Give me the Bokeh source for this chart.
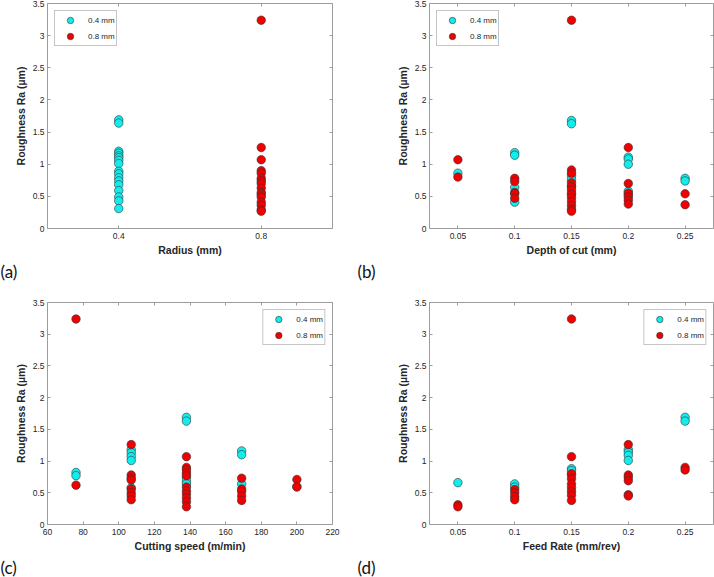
from bokeh.plotting import figure
from bokeh.layouts import column, row
from bokeh.models import (FixedTicker, Legend, LegendItem, LinearAxis, Range1d, Title)
from bokeh.embed import file_html
from bokeh.resources import INLINE

# ---------------- data ----------------
series_names = ["0.4 mm", "0.8 mm"]
ra_ticks = [0, 0.5, 1, 1.5, 2, 2.5, 3, 3.5]
ra_tick_labels = ["0", "0.5", "1", "1.5", "2", "2.5", "3", "3.5"]

# (a) radius
radius_ticks = [0.4, 0.8]
radius_tick_labels = ["0.4", "0.8"]
a_cyan_x = [0.4] * 17
a_cyan_y = [1.69, 1.64, 1.20, 1.17, 1.13, 1.10, 1.06, 1.01, 0.89, 0.85, 0.79,
            0.74, 0.68, 0.59, 0.49, 0.43, 0.31]
a_red_x = [0.8] * 16
a_red_y = [3.24, 1.26, 1.07, 0.90, 0.86, 0.78, 0.74, 0.70, 0.63, 0.56, 0.53,
           0.49, 0.41, 0.36, 0.29, 0.27]

# (b) depth of cut
depth_ticks = [0.05, 0.1, 0.15, 0.2, 0.25]
depth_tick_labels = ["0.05", "0.1", "0.15", "0.2", "0.25"]
b_cyan_x = [0.05, 0.1, 0.1, 0.1, 0.1, 0.15, 0.15, 0.15, 0.15, 0.15, 0.15,
            0.2, 0.2, 0.2, 0.2, 0.2, 0.25, 0.25]
b_cyan_y = [0.86, 1.18, 1.14, 0.64, 0.41, 1.68, 1.63, 0.82, 0.76, 0.66, 0.55,
            1.11, 1.08, 1.00, 0.58, 0.52, 0.78, 0.74]
b_red_x = [0.05, 0.05, 0.1, 0.1, 0.1, 0.1, 0.1, 0.15, 0.15, 0.15, 0.15, 0.15,
           0.15, 0.15, 0.15, 0.15, 0.15, 0.15, 0.15, 0.2, 0.2, 0.2, 0.2, 0.2,
           0.2, 0.25, 0.25]
b_red_y = [1.07, 0.80, 0.78, 0.73, 0.56, 0.54, 0.47, 3.24, 0.91, 0.86, 0.71,
           0.65, 0.60, 0.53, 0.48, 0.42, 0.36, 0.30, 0.27, 1.26, 0.70, 0.55,
           0.49, 0.44, 0.38, 0.54, 0.37]

# (c) cutting speed
speed_ticks = [60, 80, 100, 120, 140, 160, 180, 200, 220]
c_cyan_x = [76, 76, 107, 107, 107, 107, 107, 138, 138, 138, 138, 138, 169, 169,
            169, 200]
c_cyan_y = [0.82, 0.77, 1.18, 1.13, 1.07, 1.01, 0.58, 1.69, 1.63, 0.74, 0.68,
            0.64, 1.16, 1.10, 0.64, 0.60]
c_red_x = [76, 76, 107, 107, 107, 107, 107, 107, 107, 107, 138, 138, 138, 138,
           138, 138, 138, 138, 138, 138, 138, 169, 169, 169, 169, 169, 200, 200]
c_red_y = [3.24, 0.62, 1.26, 0.78, 0.73, 0.70, 0.56, 0.50, 0.45, 0.39, 1.07,
           0.90, 0.86, 0.81, 0.77, 0.59, 0.53, 0.48, 0.42, 0.36, 0.28, 0.73,
           0.56, 0.52, 0.45, 0.38, 0.71, 0.59]

# (d) feed rate
feed_ticks = [0.05, 0.1, 0.15, 0.2, 0.25]
feed_tick_labels = ["0.05", "0.1", "0.15", "0.2", "0.25"]
d_cyan_x = [0.05, 0.1, 0.1, 0.15, 0.15, 0.15, 0.2, 0.2, 0.2, 0.2, 0.25, 0.25]
d_cyan_y = [0.66, 0.64, 0.59, 0.88, 0.85, 0.78, 1.18, 1.14, 1.09, 1.01, 1.69,
            1.63]
d_red_x = [0.05, 0.05, 0.1, 0.1, 0.1, 0.1, 0.15, 0.15, 0.15, 0.15, 0.15, 0.15,
           0.15, 0.15, 0.15, 0.2, 0.2, 0.2, 0.2, 0.2, 0.2, 0.25, 0.25]
d_red_y = [0.31, 0.28, 0.55, 0.50, 0.44, 0.39, 3.24, 1.07, 0.80, 0.72, 0.64,
           0.58, 0.52, 0.46, 0.38, 1.26, 0.78, 0.74, 0.69, 0.47, 0.45, 0.90,
           0.86]

# ---------------- styling ----------------
CYAN = "#12ECEC"
RED = "#F00000"
BOX = "#9C9C9C"
TXT = "#262626"
FONT = "Liberation Sans"


def make_panel(tag, xlabel, xr, xticks, xlabels, cx, cy, rx, ry, legend_loc,
               width, height, bl, br, bt, bb):
    p = figure(width=width, height=height, output_backend="svg",
               toolbar_location=None, x_range=Range1d(*xr),
               y_range=Range1d(0, 3.5),
               min_border_left=bl, min_border_right=br,
               min_border_top=bt, min_border_bottom=bb)
    p.grid.visible = False
    p.outline_line_color = BOX
    p.outline_line_width = 1
    p.background_fill_color = "white"
    p.border_fill_color = "white"

    rc = p.scatter(cx, cy, size=8.5, fill_color=CYAN, line_color="#333333",
                   line_width=0.6)
    rr = p.scatter(rx, ry, size=8.5, fill_color=RED, line_color="#333333",
                   line_width=0.6)

    for ax, tick, labels in ((p.xaxis[0], xticks, xlabels),
                             (p.yaxis[0], ra_ticks, ra_tick_labels)):
        ax.ticker = FixedTicker(ticks=tick)
        if labels is not None:
            ax.major_label_overrides = {t: l for t, l in zip(tick, labels)}
        ax.axis_line_color = None
        ax.major_tick_in = 3
        ax.major_tick_out = 0
        ax.major_tick_line_color = BOX
        ax.minor_tick_line_color = None
        ax.major_label_text_font = FONT
        ax.major_label_text_font_size = "8.5px"
        ax.major_label_text_color = TXT
        ax.axis_label_text_font = FONT
        ax.axis_label_text_font_size = "10.5px"
        ax.axis_label_text_font_style = "bold"
        ax.axis_label_text_color = TXT
    p.xaxis[0].axis_label = xlabel
    p.xaxis[0].major_label_standoff = 4
    p.xaxis[0].axis_label_standoff = 2
    p.yaxis[0].axis_label = "Roughness Ra (\u00b5m)"
    p.yaxis[0].major_label_standoff = 3
    p.yaxis[0].axis_label_standoff = 3

    # mirrored ticks on the top and right of the box (labels hidden)
    top = LinearAxis(ticker=FixedTicker(ticks=xticks))
    right = LinearAxis(ticker=FixedTicker(ticks=ra_ticks))
    for ax in (top, right):
        ax.axis_line_color = None
        ax.major_tick_in = 3
        ax.major_tick_out = 0
        ax.major_tick_line_color = BOX
        ax.minor_tick_line_color = None
        ax.major_label_text_color = None
        ax.major_label_text_font_size = "1px"
        ax.major_label_standoff = 0
    p.add_layout(top, "above")
    p.add_layout(right, "right")

    legend = Legend(items=[LegendItem(label=series_names[0], renderers=[rc]),
                           LegendItem(label=series_names[1], renderers=[rr])],
                    location=legend_loc, orientation="vertical")
    legend.label_text_font = FONT
    legend.label_text_font_size = "8px"
    legend.label_text_color = TXT
    legend.glyph_width = 28
    legend.glyph_height = 16
    legend.label_height = 16
    legend.spacing = -5
    legend.padding = 1
    legend.margin = 7
    legend.label_standoff = 4
    legend.border_line_color = "#8C8C8C"
    legend.border_line_width = 1
    legend.background_fill_color = "white"
    p.add_layout(legend)

    tag_title = Title(text=tag, align="left", offset=-bl, standoff=0,
                      text_font="Lato", text_font_size="17px",
                      text_font_style="normal", text_color="#111111")
    p.add_layout(tag_title, "below")
    return p


WL, WR = 357, 357
H_TOP, H_BOT = 290, 287
pa = make_panel("(a)", "Radius (mm)", (0.2, 1.0), radius_ticks,
                radius_tick_labels, a_cyan_x, a_cyan_y, a_red_x, a_red_y,
                "top_left", WL, H_TOP, 47, 25, 3, 62)
pb = make_panel("(b)", "Depth of cut (mm)", (0.025, 0.275), depth_ticks,
                depth_tick_labels, b_cyan_x, b_cyan_y, b_red_x, b_red_y,
                "top_left", WR, H_TOP, 72, 1, 3, 62)
pc = make_panel("(c)", "Cutting speed (m/min)", (60, 220), speed_ticks,
                None, c_cyan_x, c_cyan_y, c_red_x, c_red_y,
                "top_right", WL, H_BOT, 47, 25, 12, 51)
pd = make_panel("(d)", "Feed Rate (mm/rev)", (0.025, 0.275), feed_ticks,
                feed_tick_labels, d_cyan_x, d_cyan_y, d_red_x, d_red_y,
                "top_right", WR, H_BOT, 72, 1, 12, 51)

layout = column(row(pa, pb), row(pc, pd))
open("out.html", "w").write(file_html(layout, INLINE))
